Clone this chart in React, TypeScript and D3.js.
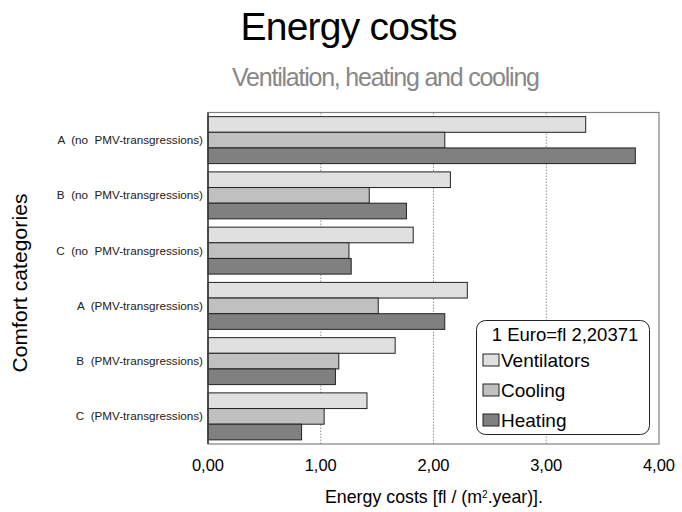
import { useEffect, useRef } from "react";
import * as d3 from "d3";

const categories = [
  "A  (no  PMV-transgressions)",
  "B  (no  PMV-transgressions)",
  "C  (no  PMV-transgressions)",
  "A  (PMV-transgressions)",
  "B  (PMV-transgressions)",
  "C  (PMV-transgressions)",
];
const seriesNames = ["Ventilators", "Cooling", "Heating"];
const ventilators = [3.35, 2.15, 1.82, 2.3, 1.66, 1.41];
const cooling = [2.1, 1.43, 1.25, 1.51, 1.16, 1.03];
const heating = [3.79, 1.76, 1.27, 2.1, 1.13, 0.83];
const xTicks = [0, 1, 2, 3, 4];
const colors = ["#e0e0e0", "#c0c0c0", "#808080"];

export default function App() {
  const svgRef = useRef<SVGSVGElement>(null);

  useEffect(() => {
    document.body.style.margin = "0";
    const width = 682;
    const height = 512;
    const margin = { top: 112.5, right: 23, bottom: 68, left: 208 };

    const svg = d3.select(svgRef.current);
    svg.attr("viewBox", `0 0 ${width} ${height}`);
    svg.selectAll("*").remove();

    const values = [ventilators, cooling, heating];
    const rows = categories.map((cat, i) => ({
      cat,
      vals: seriesNames.map((name, s) => ({ name, value: values[s][i], color: colors[s] })),
    }));

    const x = d3.scaleLinear().domain([0, 4]).range([margin.left, width - margin.right]);
    const y = d3
      .scaleBand()
      .domain(categories)
      .range([margin.top, height - margin.bottom])
      .paddingInner(0.15)
      .paddingOuter(0.075);
    const ySub = d3.scaleBand().domain(seriesNames).range([0, y.bandwidth()]);

    const font = "'Liberation Sans', Arial, sans-serif";

    // titles
    svg
      .append("text")
      .attr("x", 349)
      .attr("y", 40)
      .attr("text-anchor", "middle")
      .attr("font-family", font)
      .attr("font-size", 39)
      .attr("fill", "#000")
      .attr("textLength", 217)
      .text("Energy costs");
    svg
      .append("text")
      .attr("x", 386)
      .attr("y", 86)
      .attr("text-anchor", "middle")
      .attr("font-family", font)
      .attr("font-size", 25)
      .attr("fill", "#888")
      .attr("textLength", 308)
      .text("Ventilation, heating and cooling");

    // grid
    svg
      .append("g")
      .selectAll("line")
      .data(xTicks.slice(1, -1))
      .join("line")
      .attr("x1", (d) => x(d))
      .attr("x2", (d) => x(d))
      .attr("y1", margin.top)
      .attr("y2", height - margin.bottom)
      .attr("stroke", "#777")
      .attr("stroke-width", 0.8)
      .attr("stroke-dasharray", "1.5,1.5");

    // bars
    const groups = svg
      .append("g")
      .selectAll("g")
      .data(rows)
      .join("g")
      .attr("transform", (d) => `translate(0,${y(d.cat)})`);
    groups
      .selectAll("rect")
      .data((d) => d.vals)
      .join("rect")
      .attr("x", x(0))
      .attr("y", (d) => ySub(d.name)!)
      .attr("width", (d) => x(d.value) - x(0))
      .attr("height", ySub.bandwidth())
      .attr("fill", (d) => d.color)
      .attr("stroke", "#222")
      .attr("stroke-width", 1);

    // frame
    svg
      .append("rect")
      .attr("x", margin.left)
      .attr("y", margin.top)
      .attr("width", width - margin.left - margin.right)
      .attr("height", height - margin.top - margin.bottom)
      .attr("fill", "none")
      .attr("stroke", "#808080")
      .attr("stroke-width", 1.2);
    svg
      .append("line")
      .attr("x1", margin.left)
      .attr("x2", margin.left)
      .attr("y1", margin.top)
      .attr("y2", height - margin.bottom)
      .attr("stroke", "#222")
      .attr("stroke-width", 1.2);

    // x axis labels
    const fmt = (v: number) => d3.format(".2f")(v).replace(".", ",");
    svg
      .append("g")
      .selectAll("text")
      .data(xTicks)
      .join("text")
      .attr("x", (d) => x(d))
      .attr("y", 471)
      .attr("text-anchor", "middle")
      .attr("font-family", font)
      .attr("font-size", 16.5)
      .attr("fill", "#000")
      .text(fmt);

    // category labels
    svg
      .append("g")
      .selectAll("text")
      .data(categories)
      .join("text")
      .attr("x", 203)
      .attr("y", (d) => y(d)! + y.bandwidth() / 2 + 4)
      .attr("text-anchor", "end")
      .attr("font-family", font)
      .attr("font-size", 11.7)
      .attr("fill", "#222")
      .style("white-space", "pre")
      .text((d) => d);

    // axis titles
    const xt = svg
      .append("text")
      .attr("x", 434)
      .attr("y", 503)
      .attr("text-anchor", "middle")
      .attr("font-family", font)
      .attr("font-size", 17.8)
      .attr("fill", "#000");
    xt.append("tspan").text("Energy costs [fl / (m");
    xt.append("tspan").attr("font-size", 10).attr("dy", -5).text("2");
    xt.append("tspan").attr("dy", 5).text(".year)].");

    svg
      .append("text")
      .attr("transform", `translate(27,283) rotate(-90)`)
      .attr("text-anchor", "middle")
      .attr("font-family", font)
      .attr("font-size", 21)
      .attr("fill", "#000")
      .attr("textLength", 179)
      .text("Comfort categories");

    // legend
    const legend = svg.append("g");
    legend
      .append("rect")
      .attr("x", 476.5)
      .attr("y", 320.5)
      .attr("width", 173)
      .attr("height", 114)
      .attr("rx", 9)
      .attr("fill", "#fff")
      .attr("stroke", "#222")
      .attr("stroke-width", 1);
    legend
      .append("text")
      .attr("x", 565)
      .attr("y", 340.5)
      .attr("text-anchor", "middle")
      .attr("font-family", font)
      .attr("font-size", 18.5)
      .attr("fill", "#000")
      .text("1 Euro=fl  2,20371");
    const items = legend
      .selectAll("g.item")
      .data(seriesNames)
      .join("g")
      .attr("class", "item")
      .attr("transform", (_d, i) => `translate(483,${360 + i * 30})`);
    items
      .append("rect")
      .attr("x", 0)
      .attr("y", -6)
      .attr("width", 16)
      .attr("height", 12)
      .attr("fill", (_d, i) => colors[i])
      .attr("stroke", "#222")
      .attr("stroke-width", 1);
    items
      .append("text")
      .attr("x", 18)
      .attr("y", 6.5)
      .attr("font-family", font)
      .attr("font-size", 19)
      .attr("fill", "#000")
      .text((d) => d);
  }, []);

  return <svg ref={svgRef} width={682} height={512} style={{ display: "block" }} />;
}
